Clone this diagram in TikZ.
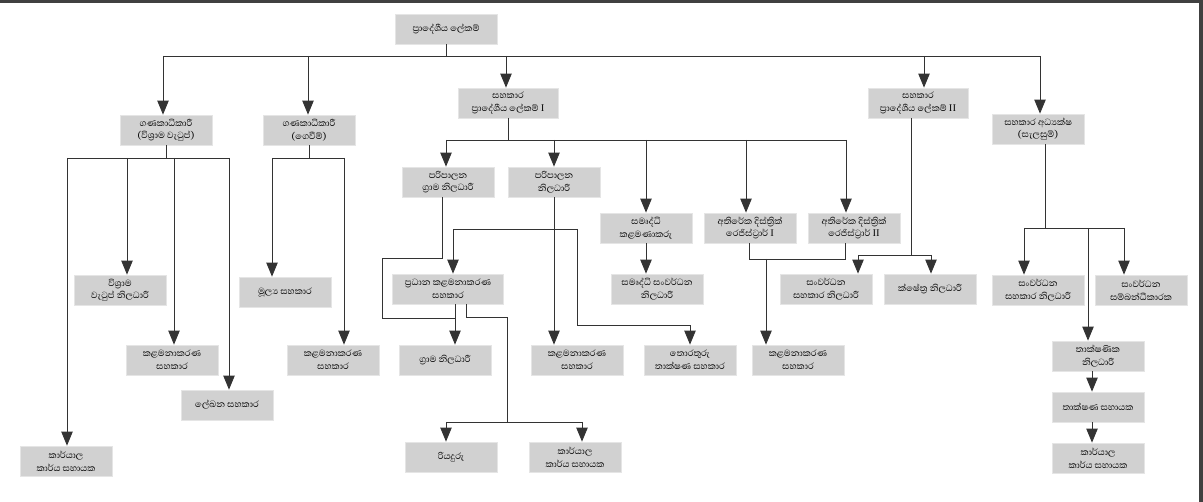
\documentclass[tikz,border=0pt]{standalone}
\usepackage{fontspec}
\newfontfamily\sinhfont[Script=Sinhala]{Abhaya Libre}
\usetikzlibrary{arrows.meta}
\tikzset{
  bx/.style={fill=black!18,draw=black!10,minimum width=1.84cm,minimum height=0.6cm,inner sep=1pt,align=center,font=\sinhfont\fontsize{6.5}{7.2}\selectfont},
  ln/.style={draw=black!80,line width=0.5pt},
  ar/.style={ln,-{Triangle[length=8pt,width=6.5pt]}}
}
\begin{document}
\begin{tikzpicture}[x=0.02cm,y=-0.02cm]
\useasboundingbox (0,0) rectangle (1203,502);
\fill[black!75] (0,0) rectangle (1203,3);
\fill[black!75] (1199,0) rectangle (1203,502);
% level 0/1
\node[bx,minimum width=2.04cm] (top) at (446,29) {ප්‍රාදේශීය ලේකම්};
\node[bx] (gv) at (166,130) {ගණකාධිකාරී\\(විශ්‍රාම වැටුප්)};
\node[bx] (gg) at (309,130) {ගණකාධිකාරී\\(ගෙවීම්)};
\node[bx,minimum width=2cm] (s1) at (508,103) {සහකාර\\ප්‍රාදේශීය ලේකම් I};
\node[bx,minimum width=2cm] (s2) at (918,103) {සහකාර\\ප්‍රාදේශීය ලේකම් II};
\node[bx] (sa) at (1038,129) {සහකාර අධ්‍යක්ෂ\\(සැලසුම්)};
% left groups
\node[bx] (vw) at (120,290) {විශ්‍රාම\\වැටුප් නිලධාරී};
\node[bx] (km1) at (172,360) {කළමනාකරණ\\සහකාර};
\node[bx] (ls) at (227,405) {ලේඛන සහකාර};
\node[bx] (kk1) at (66,461) {කාර්යාල\\කාර්ය සහායක};
\node[bx] (ms) at (285,292) {මූල්‍ය සහකාර};
\node[bx] (km2) at (333,360) {කළමනාකරණ\\සහකාර};
% s1 group
\node[bx] (pg) at (448,182) {පරිපාලන\\ග්‍රාම නිලධාරී};
\node[bx] (pn) at (554,182) {පරිපාලන\\නිලධාරී};
\node[bx] (sk) at (646,228) {සමෘද්ධි\\කළමණාකරු};
\node[bx] (r1) at (750,228) {අතිරේක දිස්ත්‍රික්\\රෙජිස්ට්‍රාර් I};
\node[bx] (r2) at (854,228) {අතිරේක දිස්ත්‍රික්\\රෙජිස්ට්‍රාර් II};
\node[bx] (ssn) at (657,289) {සමෘද්ධි සංවර්ධන\\නිලධාරී};
\node[bx,minimum width=2.22cm] (pk) at (448,289) {ප්‍රධාන කළමනාකරණ\\සහකාර};
\node[bx] (gn) at (445,360) {ග්‍රාම නිලධාරී};
\node[bx] (km3) at (577,360) {කළමනාකරණ\\සහකාර};
\node[bx] (tt) at (690,360) {තොරතුරු\\තාක්ෂණ සහකාර};
\node[bx] (ry) at (451,457) {රියදුරු};
\node[bx] (kk2) at (575,457) {කාර්යාල\\කාර්ය සහායක};
\node[bx] (km4) at (798,360) {කළමනාකරණ\\සහකාර};
% s2 group
\node[bx] (sn1) at (826,289) {සංවර්ධන\\සහකාර නිලධාරී};
\node[bx] (kn) at (930,289) {ක්ෂේත්‍ර නිලධාරී};
% sa group
\node[bx] (sn2) at (1038,290) {සංවර්ධන\\සහකාර නිලධාරී};
\node[bx] (sb) at (1141,290) {සංවර්ධන\\සම්බන්ධීකාරක};
\node[bx] (tn) at (1098,356) {තාක්ෂණික\\නිලධාරී};
\node[bx] (ts) at (1098,407) {තාක්ෂණ සහායක};
\node[bx] (kk3) at (1098,458) {කාර්යාල\\කාර්ය සහායක};

% top bus
\draw[ln] (top.south) -- (446,56);
\draw[ln] (163,56) -- (1040,56);
\draw[ar] (163,56) -- (gv.north -| 163,0);
\draw[ar] (308,56) -- (gg.north -| 308,0);
\draw[ar] (506,56) -- (s1.north -| 506,0);
\draw[ar] (924,56) -- (s2.north -| 924,0);
\draw[ar] (1040,56) -- (sa.north -| 1040,0);
% vishrama group
\draw[ln] (gv.south) -- (166,158);
\draw[ln] (67,158) -- (229,158);
\draw[ar] (127,158) -- (vw.north -| 127,0);
\draw[ar] (174,158) -- (km1.north -| 174,0);
\draw[ar] (229,158) -- (ls.north -| 229,0);
\draw[ar] (67,158) -- (kk1.north -| 67,0);
% gevim group
\draw[ln] (gg.south) -- (309,158);
\draw[ln] (272,158) -- (344,158);
\draw[ar] (272,158) -- (ms.north -| 272,0);
\draw[ar] (344,158) -- (km2.north -| 344,0);
% s1 group
\draw[ln] (s1.south) -- (508,140);
\draw[ln] (446,140) -- (846,140);
\draw[ar] (446,140) -- (pg.north -| 446,0);
\draw[ar] (554,140) -- (pn.north -| 554,0);
\draw[ar] (646,140) -- (sk.north -| 646,0);
\draw[ar] (746,140) -- (r1.north -| 746,0);
\draw[ar] (846,140) -- (r2.north -| 846,0);
\draw[ar] (sk.south) -- (ssn.north -| 646,0);
\draw[ar] (pg.south -| 442,0) |- (382,258) |- (455,318) -- (gn.north -| 455,0);
\draw[ln] (pk.south -| 455,0) -- (455,318);
\draw[ar] (pn.south) -- (km3.north -| 554,0);
\draw[ar] (577,229) -| (pk.north -| 453,0);
\draw[ar] (577,229) |- (690,325) -- (tt.north);
\draw[ln] (pk.south -| 466,0) |- (507,317) -- (507,422);
\draw[ln] (446,422) -- (582,422);
\draw[ar] (446,422) -- (ry.north -| 446,0);
\draw[ar] (582,422) -- (kk2.north -| 582,0);
\draw[ln] (r1.south -| 749,0) |- (845,259) -- (r2.south -| 845,0);
\draw[ar] (766,259) -- (km4.north -| 766,0);
% s2 group
\draw[ln] (s2.south -| 911,0) -- (911,255);
\draw[ln] (858,255) -- (931,255);
\draw[ar] (858,255) -- (sn1.north -| 858,0);
\draw[ar] (931,255) -- (kn.north -| 931,0);
% sa group
\draw[ln] (sa.south -| 1045,0) -- (1045,228);
\draw[ln] (1024,228) -- (1124,228);
\draw[ar] (1024,228) -- (sn2.north -| 1024,0);
\draw[ar] (1124,228) -- (sb.north -| 1124,0);
\draw[ar] (1088,228) -- (tn.north -| 1088,0);
\draw[ar] (tn.south -| 1092,0) -- (ts.north -| 1092,0);
\draw[ar] (ts.south -| 1092,0) -- (kk3.north -| 1092,0);
\end{tikzpicture}
\end{document}
